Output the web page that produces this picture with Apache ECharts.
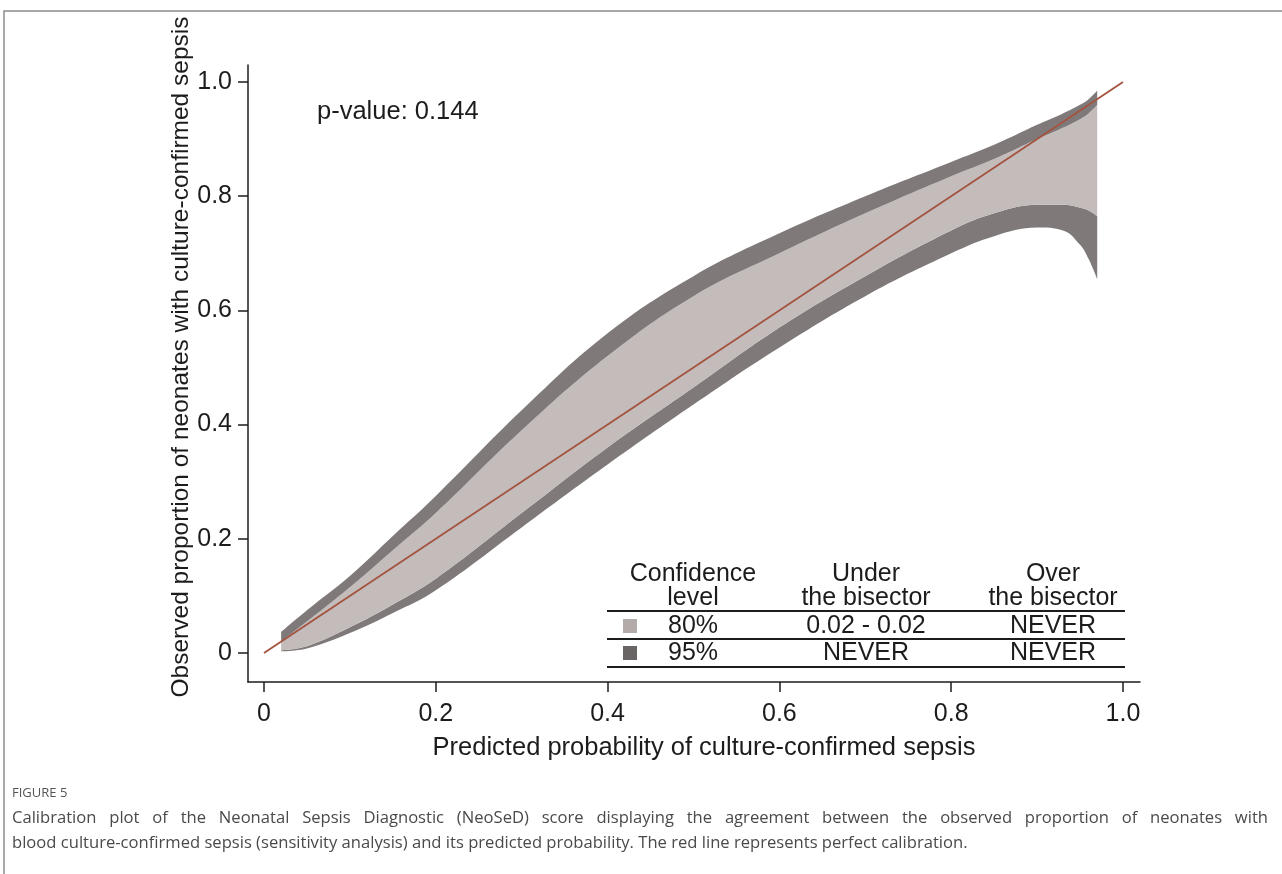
<!DOCTYPE html>
<html>
<head>
<meta charset="utf-8">
<script src="https://cdn.jsdelivr.net/npm/echarts@6/dist/echarts.min.js"></script>
<style>
html,body{margin:0;padding:0;background:#fff;}
#chart{width:1282px;height:874px;}
</style>
</head>
<body>
<div id="chart"></div>
<script>
// ---- data ----
const xs      = [0.02, 0.05, 0.10, 0.15, 0.20, 0.30, 0.40, 0.50, 0.60, 0.70, 0.80, 0.85, 0.90, 0.93, 0.95, 0.96, 0.97];
const upper95 = [0.037,0.075,0.135,0.205,0.275,0.425,0.560,0.660,0.735,0.800,0.860,0.890,0.925,0.945,0.960,0.970,0.985];
const upper80 = [0.020,0.055,0.115,0.180,0.245,0.390,0.520,0.625,0.700,0.770,0.835,0.865,0.900,0.920,0.935,0.945,0.960];
const lower80 = [0.005,0.012,0.045,0.085,0.130,0.245,0.360,0.465,0.570,0.660,0.740,0.770,0.785,0.785,0.780,0.775,0.765];
const lower95 = [0.003,0.008,0.035,0.070,0.110,0.220,0.330,0.435,0.535,0.625,0.700,0.730,0.745,0.740,0.715,0.690,0.655];
const diagonal = [[0, 0], [1, 1]];
const xTicks = [0, 0.2, 0.4, 0.6, 0.8, 1.0];
const yTicks = [0, 0.2, 0.4, 0.6, 0.8, 1.0];
const xTitle = 'Predicted probability of culture-confirmed sepsis';
const yTitle = 'Observed proportion of neonates with culture-confirmed sepsis';
const pValueText = 'p-value: 0.144';
const tableHeader = [['Confidence', 'level'], ['Under', 'the bisector'], ['Over', 'the bisector']];
const tableRows = [['80%', '0.02 - 0.02', 'NEVER'], ['95%', 'NEVER', 'NEVER']];
const captionTitle = 'FIGURE 5';
const captionLines = [
  'Calibration plot of the Neonatal Sepsis Diagnostic (NeoSeD) score displaying the agreement between the observed proportion of neonates with',
  'blood culture-confirmed sepsis (sensitivity analysis) and its predicted probability. The red line represents perfect calibration.'
];

const DARK = '#7f7a79', LIGHT = '#c3bcbb', RED = '#a4533f', INK = '#1c1c1c';
const FONT = 'Liberation Sans, Arial, sans-serif';
const CAPFONT = '16.6px "Open Sans", sans-serif';

function fmt(v) { return v === 0 ? '0' : v.toFixed(1); }

// stacked band pieces: items are [y, x] so the stack is applied to the y value
const dLow = xs.map((x, i) => lower80[i] - lower95[i]);
const dMid = xs.map((x, i) => upper80[i] - lower80[i]);
const dUp  = xs.map((x, i) => upper95[i] - upper80[i]);
function yx(vals) { return xs.map((x, i) => [vals[i], x]); }
function bandPiece(name, vals, color) {
  const s = {
    type: 'line', name: name, data: yx(vals), encode: { x: 1, y: 0 }, stack: 'band',
    symbol: 'none', smooth: 0.4, silent: true,
    lineStyle: { width: 0, opacity: 0 }
  };
  if (color) s.areaStyle = { color: color, opacity: 1 };
  return s;
}

const chart = echarts.init(document.getElementById('chart'), null, { renderer: 'canvas' });

const colX = [693, 866, 1053];
const tblLeft = 607, tblRight = 1125;
const graphics = [];
const Z = 100;
graphics.push({ type: 'polyline', z: Z, shape: { points: [[1282, 11], [4, 11], [4, 874]] }, style: { stroke: '#8c8c8c', lineWidth: 1.5, fill: null } });
graphics.push({ type: 'text', z: Z, x: 317, y: 112, style: { text: pValueText, font: '25.5px ' + FONT, fill: INK, verticalAlign: 'middle' } });
graphics.push({ type: 'text', z: Z, x: 181, y: 357, rotation: Math.PI / 2, style: { text: yTitle, font: '24.5px ' + FONT, fill: INK, align: 'center', verticalAlign: 'middle' } });
graphics.push({ type: 'text', z: Z, x: 704, y: 748, style: { text: xTitle, font: '25.5px ' + FONT, fill: INK, align: 'center', verticalAlign: 'middle' } });
tableHeader.forEach((h, c) => {
  graphics.push({ type: 'text', z: Z, x: colX[c], y: 574, style: { text: h[0], font: '25px ' + FONT, fill: INK, align: 'center', verticalAlign: 'middle' } });
  graphics.push({ type: 'text', z: Z, x: colX[c], y: 598, style: { text: h[1], font: '25px ' + FONT, fill: INK, align: 'center', verticalAlign: 'middle' } });
});
[611, 639, 667].forEach(y => {
  graphics.push({ type: 'line', z: Z, shape: { x1: tblLeft, y1: y, x2: tblRight, y2: y }, style: { stroke: INK, lineWidth: 2 } });
});
const rowY = [626, 653];
const swatch = ['#b3abaa', '#6a6565'];
tableRows.forEach((r, i) => {
  graphics.push({ type: 'rect', z: Z, shape: { x: 623, y: rowY[i] - 7, width: 14, height: 14 }, style: { fill: swatch[i] } });
  r.forEach((t, c) => {
    graphics.push({ type: 'text', z: Z, x: colX[c], y: rowY[i], style: { text: t, font: '25px ' + FONT, fill: INK, align: 'center', verticalAlign: 'middle' } });
  });
});
// caption
graphics.push({ type: 'text', z: Z, x: 12, y: 793, style: { text: captionTitle, font: '13px "Open Sans", sans-serif', fill: '#555', verticalAlign: 'middle' } });
const mctx = document.createElement('canvas').getContext('2d');
mctx.font = CAPFONT;
(function () {
  const words = captionLines[0].split(' ');
  const widths = words.map(w => mctx.measureText(w).width);
  const total = widths.reduce((a, b) => a + b, 0);
  const gap = (1268 - 12 - total) / (words.length - 1);
  let x = 12;
  words.forEach((w, i) => {
    graphics.push({ type: 'text', z: Z, x: x, y: 818, style: { text: w, font: CAPFONT, fill: '#4a4a4a', verticalAlign: 'middle' } });
    x += widths[i] + gap;
  });
})();
graphics.push({ type: 'text', z: Z, x: 12, y: 843, style: { text: captionLines[1], font: CAPFONT, fill: '#4a4a4a', verticalAlign: 'middle' } });

chart.setOption({
  animation: false,
  backgroundColor: '#fff',
  grid: { left: 248, right: 142, top: 65, bottom: 192, containLabel: false },
  xAxis: {
    type: 'value', min: -0.0186, max: 1.0198,
    axisLine: { show: true, onZero: false, lineStyle: { color: INK, width: 1.5 } },
    axisTick: { show: true, length: 10, customValues: xTicks, lineStyle: { color: INK, width: 1.5 } },
    axisLabel: { customValues: xTicks, formatter: fmt, margin: 20, fontFamily: FONT, fontSize: 25, color: INK },
    splitLine: { show: false }
  },
  yAxis: {
    type: 'value', min: -0.0508, max: 1.0298,
    axisLine: { show: true, onZero: false, lineStyle: { color: INK, width: 1.5 } },
    axisTick: { show: true, length: 10, customValues: yTicks, lineStyle: { color: INK, width: 1.5 } },
    axisLabel: { customValues: yTicks, formatter: fmt, margin: 16, fontFamily: FONT, fontSize: 25, color: INK },
    splitLine: { show: false }
  },
  series: [
    bandPiece('base', lower95, null),
    bandPiece('low95', dLow, DARK),
    bandPiece('mid80', dMid, LIGHT),
    bandPiece('up95', dUp, DARK),
    { type: 'line', name: 'perfect', data: diagonal, symbol: 'none', lineStyle: { color: RED, width: 1.8 }, z: 5, silent: true }
  ],
  graphic: graphics
});
</script>
</body>
</html>
